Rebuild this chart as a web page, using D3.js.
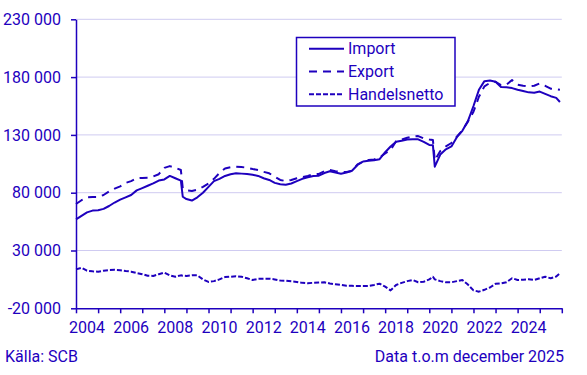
<!DOCTYPE html>
<html>
<head>
<meta charset="utf-8">
<script src="https://cdn.jsdelivr.net/npm/d3@7"></script>
<style>
  body { margin: 0; background: #fff; }
  svg text { font-family: Roboto, sans-serif; fill: #1e00be; }
</style>
</head>
<body>
<div id="chart"></div>
<script>
// monthly trade values (mkr) at roughly quarterly steps
var dates = [
  "2004-01","2004-04","2004-07","2004-10",
  "2005-01","2005-04","2005-07","2005-10",
  "2006-01","2006-04","2006-07","2006-10",
  "2007-01","2007-04","2007-07","2007-10",
  "2008-01","2008-04","2008-07","2008-10","2008-11",
  "2009-01","2009-04","2009-07","2009-10",
  "2010-01","2010-04","2010-07","2010-10",
  "2011-01","2011-04","2011-07","2011-10",
  "2012-01","2012-04","2012-07","2012-10",
  "2013-01","2013-04","2013-07","2013-10",
  "2014-01","2014-04","2014-07","2014-10",
  "2015-01","2015-04","2015-07","2015-10",
  "2016-01","2016-04","2016-07","2016-10",
  "2017-01","2017-04","2017-07","2017-10",
  "2018-01","2018-04","2018-07","2018-10",
  "2019-01","2019-04","2019-07","2019-10",
  "2020-01","2020-03","2020-04","2020-07","2020-10",
  "2021-01","2021-04","2021-07","2021-10",
  "2022-01","2022-04","2022-07","2022-10",
  "2023-01","2023-04","2023-07","2023-10",
  "2024-01","2024-04","2024-07","2024-10",
  "2025-01","2025-04","2025-07","2025-10","2025-12"
];

var importVals = [
  57000,60000,63000,64500,
  64800,66000,68500,71500,
  74000,76000,78000,82000,
  84000,86000,88000,90500,
  91500,94500,92500,90400,76500,
  74500,73200,76000,80000,
  85000,90000,92000,94500,
  96000,96800,96500,96200,
  95500,94500,92500,91000,
  88500,87300,86900,88000,
  90000,92000,93300,94500,
  94700,97000,98500,97500,
  96400,97500,99000,104000,
  107000,107700,108000,109000,
  115000,120000,124100,125000,
  126000,126200,126200,124000,
  121300,121000,102500,113000,117500,
  120000,128000,133500,142000,
  155000,169000,176500,177000,
  176000,171500,171200,170500,
  169000,168000,166800,166500,
  167500,165500,163500,162000,158500
];

var exportVals = [
  70200,73500,76000,76300,
  76300,78000,81000,83500,
  85500,88500,90000,92500,
  92800,93000,94000,96000,
  101500,103000,101500,99600,83800,
  82000,81500,82500,85000,
  88000,92000,97000,101000,
  102000,102500,102200,101600,
  100500,99600,98000,96800,
  93800,91000,90100,91000,
  92500,93500,94500,96000,
  96200,98500,99600,98500,
  97900,98000,98800,104500,
  107000,108300,108800,110500,
  114000,117000,124500,126000,
  127500,128600,129000,127000,
  126000,125600,108000,116000,120000,
  123000,128500,134000,141500,
  150000,163000,172000,175000,
  176000,173000,173500,177500,
  173500,172500,172000,172500,
  174500,172500,170000,169500,169000
];

var netVals = [
  13700,15000,12500,12000,
  11700,12500,13100,13300,
  13000,12300,11700,10500,
  9500,8200,8000,9500,
  10800,8500,7300,8500,8200,
  8000,8500,8500,5000,
  2800,3500,5000,7000,
  7300,7800,7300,6000,
  4500,5500,5600,5600,
  5000,4000,3900,3300,
  2800,2000,1600,2100,
  2300,2500,1500,800,
  200,-500,-600,-700,
  -700,-700,200,1300,
  -1300,-4500,200,2000,
  3500,4500,2500,3000,
  5000,7300,5000,3500,2500,
  2500,3500,4500,500,
  -4500,-5600,-4000,-2000,
  1200,1600,2500,6000,
  4500,4800,5100,4500,
  6000,7300,6000,7500,10300
];

var yTicks = [-20000, 30000, 80000, 130000, 180000, 230000];
var xLabelYears = [2004, 2006, 2008, 2010, 2012, 2014, 2016, 2018, 2020, 2022, 2024];
var seriesNames = ["Import", "Export", "Handelsnetto"];
var dashes = [null, "8,6", "5,2"];

var blue = "#1e00be", gridCol = "#cfcbf1";
var W = 587, H = 375;
var margin = {top: 19.3, right: 25, bottom: 67, left: 76};

var parse = d3.timeParse("%Y-%m");
var times = dates.map(parse);

var svg = d3.select("#chart")
  .append("svg")
    .attr("width", W)
    .attr("height", H);

var x = d3.scaleTime()
  .domain([new Date(2004, 0, 1), new Date(2026, 0, 1)])
  .range([margin.left, W - margin.right - 0.2]);

var y = d3.scaleLinear()
  .domain([-20000, 230000])
  .range([H - margin.bottom + 0.3, margin.top]);

var loc = d3.formatLocale({decimal: ",", thousands: " ", grouping: [3], currency: ["", " kr"], minus: "-"});
var fmt = loc.format(",d");

// grid lines
svg.append("g")
  .selectAll("line")
  .data(yTicks.slice(1))
  .enter().append("line")
    .attr("x1", x.range()[0])
    .attr("x2", x.range()[1])
    .attr("y1", function(d){ return y(d); })
    .attr("y2", function(d){ return y(d); })
    .attr("stroke", gridCol)
    .attr("stroke-width", 1);

// y axis
var yAxis = svg.append("g")
  .attr("transform", "translate(" + margin.left + ",0)")
  .call(d3.axisLeft(y).tickValues(yTicks).tickFormat(fmt).tickSize(5).tickSizeOuter(0).tickPadding(10));
yAxis.selectAll("path, line").attr("stroke", blue).attr("stroke-width", 1.5);
yAxis.selectAll("text").attr("font-size", 16).attr("fill", blue);

// x axis, ticks every year, labels every second year at mid year
var xAxis = svg.append("g")
  .attr("transform", "translate(0," + y(-20000) + ")")
  .call(d3.axisBottom(x).ticks(d3.timeYear.every(1)).tickFormat("").tickSize(5).tickSizeOuter(0));
xAxis.selectAll("path, line").attr("stroke", blue).attr("stroke-width", 1.5);

svg.append("g")
  .selectAll("text")
  .data(xLabelYears)
  .enter().append("text")
    .attr("x", function(d){ return x(new Date(d, 6, 1)); })
    .attr("y", 333)
    .attr("text-anchor", "middle")
    .attr("font-size", 16)
    .text(function(d){ return d; });

// lines
var allVals = [importVals, exportVals, netVals];
var line = d3.line()
  .x(function(d){ return x(d[0]); })
  .y(function(d){ return y(d[1]); });

allVals.forEach(function(vals, i){
  svg.append("path")
    .datum(d3.zip(times, vals))
    .attr("fill", "none")
    .attr("stroke", blue)
    .attr("stroke-width", 2)
    .attr("stroke-dasharray", dashes[i])
    .attr("stroke-linejoin", "round")
    .attr("d", line);
});

// legend
var lg = svg.append("g");
lg.append("rect")
  .attr("x", 296.5).attr("y", 37.5)
  .attr("width", 158.5).attr("height", 68.5)
  .attr("fill", "#fff")
  .attr("stroke", blue)
  .attr("stroke-width", 1.5);

seriesNames.forEach(function(name, i){
  var ly = 48.7 + i * 22.8;
  lg.append("line")
    .attr("x1", 309).attr("x2", 344)
    .attr("y1", ly).attr("y2", ly)
    .attr("stroke", blue)
    .attr("stroke-width", 2)
    .attr("stroke-dasharray", dashes[i]);
  lg.append("text")
    .attr("x", 348).attr("y", ly)
    .attr("dy", "0.35em")
    .attr("font-size", 16)
    .text(name);
});

// footer
svg.append("text")
  .attr("x", 5).attr("y", 362)
  .attr("font-size", 16)
  .text("Källa: SCB");

svg.append("text")
  .attr("x", 564).attr("y", 362)
  .attr("text-anchor", "end")
  .attr("font-size", 16)
  .text("Data t.o.m december 2025");
</script>
</body>
</html>
